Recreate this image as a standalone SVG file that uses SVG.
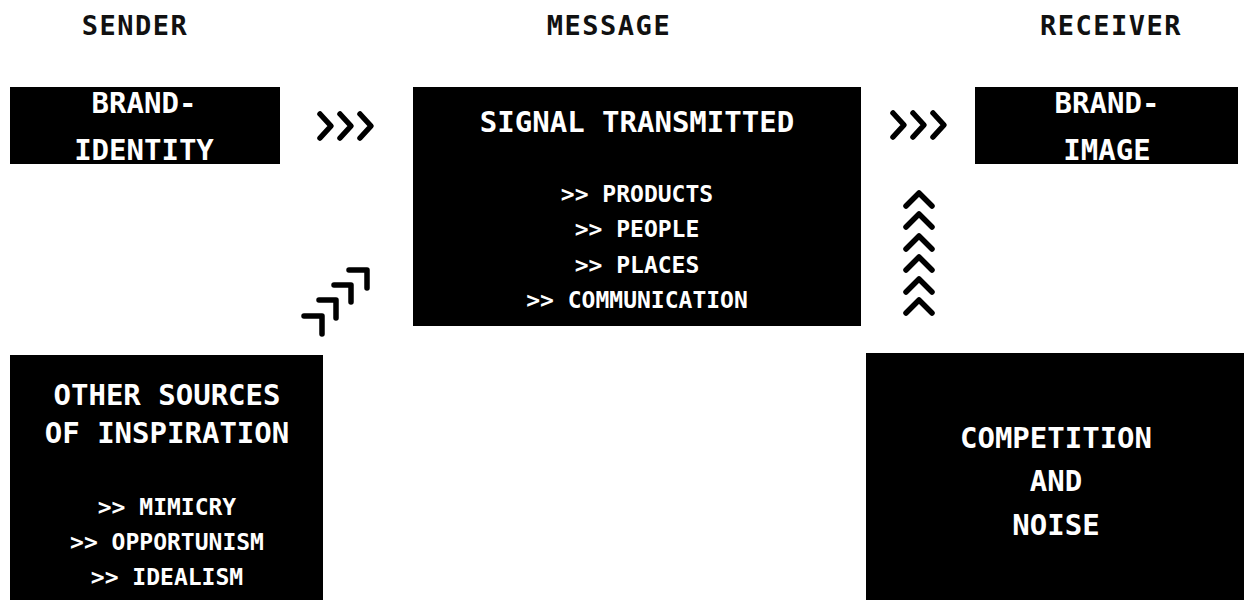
<svg xmlns="http://www.w3.org/2000/svg" width="1244" height="600" viewBox="0 0 1244 600">
<style>
.bg{fill:#fff}
.box{fill:#000}
text{font-family:"DejaVu Sans Mono","Liberation Mono",monospace;font-weight:bold;text-anchor:middle}
.hd{fill:#111;font-size:27px;letter-spacing:1.5px}
.t{fill:#fff;font-size:29px}
.it{fill:#fff;font-size:23px}
.arr{fill:none;stroke:#000;stroke-width:5.5;stroke-linecap:round;stroke-linejoin:round}
</style>
<rect class="bg" x="0" y="0" width="1244" height="600"/>
<g id="headers">
<text class="hd" x="135" y="35">SENDER</text>
<text class="hd" x="609" y="35">MESSAGE</text>
<text class="hd" x="1111" y="35">RECEIVER</text>
</g>
<g id="brand-identity">
<rect class="box" x="10" y="87" width="270" height="77"/>
<text class="t" x="144" y="113">BRAND-</text>
<text class="t" x="144" y="160">IDENTITY</text>
</g>
<g id="signal">
<rect class="box" x="413" y="87" width="448" height="239"/>
<text class="t" x="637" y="132">SIGNAL TRANSMITTED</text>
<text class="it" x="637" y="202">&gt;&gt; PRODUCTS</text>
<text class="it" x="637" y="237">&gt;&gt; PEOPLE</text>
<text class="it" x="637" y="273">&gt;&gt; PLACES</text>
<text class="it" x="637" y="308">&gt;&gt; COMMUNICATION</text>
</g>
<g id="brand-image">
<rect class="box" x="975" y="87" width="263" height="77"/>
<text class="t" x="1107" y="113">BRAND-</text>
<text class="t" x="1107" y="160">IMAGE</text>
</g>
<g id="other-sources">
<rect class="box" x="10" y="355" width="313" height="245"/>
<text class="t" x="167" y="405">OTHER SOURCES</text>
<text class="t" x="167" y="443">OF INSPIRATION</text>
<text class="it" x="167" y="515">&gt;&gt; MIMICRY</text>
<text class="it" x="167" y="550">&gt;&gt; OPPORTUNISM</text>
<text class="it" x="167" y="585">&gt;&gt; IDEALISM</text>
</g>
<g id="competition">
<rect class="box" x="866" y="353" width="378" height="247"/>
<text class="t" x="1056" y="448">COMPETITION</text>
<text class="t" x="1056" y="491">AND</text>
<text class="t" x="1056" y="535">NOISE</text>
</g>
<g id="connectors" class="arr">
<path d="M320 114 L331 126 L320 138 M340 114 L351 126 L340 138 M360 114 L371 126 L360 138"/>
<path d="M893 113 L904 125 L893 137 M913 113 L924 125 L913 137 M933 113 L944 125 L933 137"/>
<path d="M906 206 L919 193 L932 206 M906 227 L919 214 L932 227 M906 249 L919 236 L932 249 M906 270 L919 257 L932 270 M906 292 L919 279 L932 292 M906 313 L919 300 L932 313"/>
<path d="M304 316 L322 316 L322 334 M319 300 L336 300 L336 318 M334 285 L351 285 L351 302 M349 270 L367 270 L367 288"/>
</g>
</svg>
